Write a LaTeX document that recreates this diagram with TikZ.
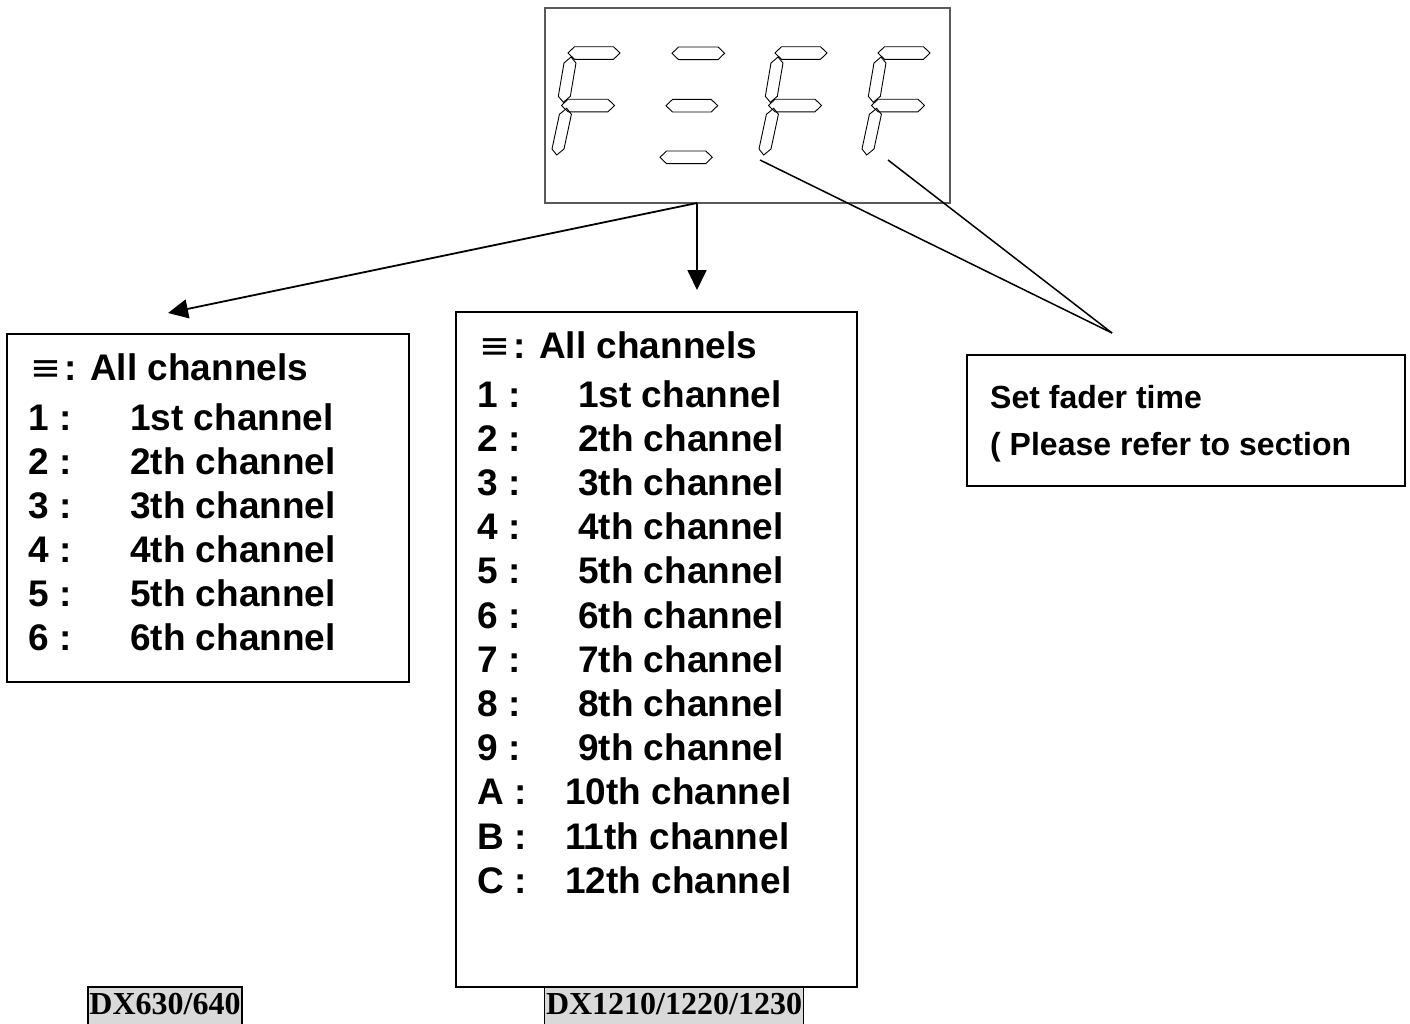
\documentclass[tikz,border=0pt]{standalone}
\usepackage{fontspec}
\setmainfont{Liberation Sans}
\newfontfamily\lblserif{Liberation Serif}
\newfontfamily\eqvfont{DejaVu Sans}
\usetikzlibrary{arrows.meta}
\newcommand\hsegm[3]{\draw[segline] (#1,#3) -- ({#1+6.5},{#3-6.3}) -- ({#2-6.5},{#3-6.3}) -- (#2,#3) -- ({#2-6.5},{#3+6.3}) -- ({#1+6.5},{#3+6.3}) -- cycle;}
\newcommand\vsegm[4]{%
  \pgfmathsetmacro\vsegslope{((#1)-(#3))/((#4)-(#2))}%
  \draw[segline] (#1,#2) -- ({#1-\vsegslope*6+6},{#2+6}) -- ({#3+\vsegslope*6+6},{#4-6}) -- (#3,#4) -- ({#3+\vsegslope*6-6},{#4-6}) -- ({#1-\vsegslope*6-6},{#2+6}) -- cycle;}
\newcommand\digitF[1]{%
  \hsegm{#1}{#1+52}{53}%
  \hsegm{#1-6.5}{#1+46.5}{105.5}%
  \vsegm{#1+3}{57}{#1-4.7}{102.3}%
  \vsegm{#1-1.3}{108.3}{#1-11.3}{155}}
\begin{document}
\begin{tikzpicture}[x=1pt,y=-1pt,
  segline/.style={draw=black,line width=0.9pt,line join=miter},
  box/.style={draw=black,line width=1.8pt,inner sep=0pt},
  dispbox/.style={draw=black!65,line width=1.2pt,inner sep=0pt},
  item/.style={anchor=base west,inner sep=0pt,font=\fontsize{37}{44}\selectfont\bfseries},
  rtext/.style={anchor=base west,inner sep=0pt,font=\fontsize{32}{38}\selectfont\bfseries},
  arr/.style={line width=1.8pt,-{Triangle[length=20pt,width=19pt]}},
  link/.style={line width=1.5pt},
  labbox/.style={anchor=base,fill=black!15,draw=black,line width=1.2pt,inner xsep=1.5pt,inner ysep=0pt,text height=27pt,text depth=20pt,font=\lblserif\fontsize{32}{38}\selectfont\bfseries}]
\useasboundingbox[fill=white] (0,0) rectangle (1410,1023);

% display
\node[dispbox,minimum width=405pt,minimum height=195pt] (disp) at (747.5,105.5) {};
\digitF{568}
\hsegm{672}{724.6}{53.3}
\hsegm{666}{717.7}{105.7}
\hsegm{660}{712.3}{157.3}
\digitF{775}
\digitF{878}

% boxes
\node[box,minimum width=402pt,minimum height=348pt] (lbox) at (208,508) {};
\node[box,minimum width=401pt,minimum height=675pt] (mbox) at (656.5,649.5) {};
\node[box,minimum width=438pt,minimum height=131pt] (rbox) at (1186,420.5) {};

% left list
\node[item] (lall) at (28,380) {\makebox[36pt]{\eqvfont\mdseries ≡}: All channels};
\foreach \n/\t [count=\i] in {1/1st,2/2th,3/3th,4/4th,5/5th,6/6th}
  \node[item] (la\i) at (28,{430+44*(\i-1)}) {\makebox[102pt][l]{\n\ :}\t\ channel};

% middle list
\node[item] (mall) at (477,358) {\makebox[36pt]{\eqvfont\mdseries ≡}: All channels};
\foreach \n/\t [count=\i] in {1/1st,2/2th,3/3th,4/4th,5/5th,6/6th,7/7th,8/8th,9/9th}
  \node[item] (ma\i) at (477,{407+44.2*(\i-1)}) {\makebox[101pt][l]{\n\ :}\t\ channel};
\foreach \n/\t [count=\i from 10] in {A/10th,B/11th,C/12th}
  \node[item] (ma\i) at (477,{407+44.2*(\i-1)}) {\makebox[88pt][l]{\n\ :}\t\ channel};

% right text
\node[rtext] (r1) at (990,408) {Set fader time};
\node[rtext] (r2) at (990,455) {( Please refer to section};

% connectors
\coordinate (src) at (697,203);
\coordinate (tipL) at (168,313);
\coordinate (tipM) at (697,290);
\draw[arr] (src) -- (tipL);
\draw[arr] (src) -- (tipM);
\coordinate (f3) at (760,160);
\coordinate (f4) at (888,160);
\coordinate (fj) at (1112,333);
\draw[link] (f3) -- (fj);
\draw[link] (f4) -- (fj);

% bottom labels
\node[labbox] (lab1) at (165,1014) {DX630/640};
\node[labbox] (lab2) at (674,1014) {DX1210/1220/1230};
\end{tikzpicture}
\end{document}
